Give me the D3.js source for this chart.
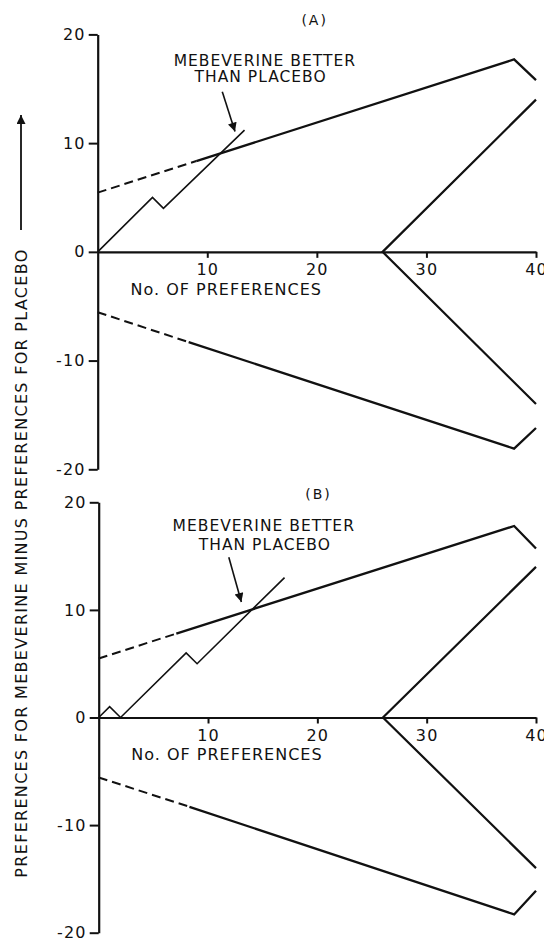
<!DOCTYPE html>
<html>
<style>
body { margin: 0; background: #fff; }
text { font-family: "DejaVu Sans", sans-serif; fill: #111; }
</style>
<body>
<script src="https://d3js.org/d3.v7.min.js"></script>
<script>
var width = 544, height = 939;

// ticks
var xTicks = [10, 20, 30, 40];
var yTicks = [-20, -10, 0, 10, 20];

// boundaries (same design in both panels)
var upperDashedA = [[0, 5.45], [9, 8.35]];
var upperSolidA = [[9, 8.35], [38, 17.7], [40, 15.8]];
var lowerDashedA = [[0, -5.55], [8.3, -8.3]];
var lowerSolidA = [[8.3, -8.3], [38, -18.1], [40, -16.2]];
var upperDashedB = [[0, 5.48], [7.1, 7.8]];
var upperSolidB = [[7.1, 7.8], [38, 17.8], [40, 15.7]];
var lowerDashedB = [[0, -5.57], [8.3, -8.3]];
var lowerSolidB = [[8.3, -8.3], [38, -18.3], [40, -16.1]];
var wedge = [[40, 14], [26, 0], [40, -14]];

// preference paths
var pathA = [[0, 0], [5, 5], [6, 4], [13.4, 11.2]];
var pathB = [[0, 0], [1, 1], [2, 0], [8, 6], [9, 5], [17, 13]];

var svg = d3.select("body").append("svg")
  .attr("width", width)
  .attr("height", height);

var defs = svg.append("defs");
defs.append("marker")
  .attr("id", "head")
  .attr("viewBox", "0 0 10 10")
  .attr("refX", 10).attr("refY", 5)
  .attr("markerUnits", "userSpaceOnUse")
  .attr("markerWidth", 13).attr("markerHeight", 9)
  .attr("orient", "auto")
  .append("path")
  .attr("d", "M0,0 L10,5 L0,10 z")
  .attr("fill", "#111");

function panel(opt) {
  var x = d3.scaleLinear().domain([0, 40]).range(opt.xr);
  var y = d3.scaleLinear().domain([-20, 20]).range(opt.yr);
  var g = svg.append("g");
  var line = d3.line().x(d => x(d[0])).y(d => y(d[1]));

  // y axis
  var ya = g.append("g")
    .attr("transform", "translate(" + x(0) + ",0)")
    .call(d3.axisLeft(y).tickValues(yTicks).tickSize(9).tickSizeOuter(0)
      .tickPadding(3).tickFormat(d => String(d)));
  // x axis
  var xa = g.append("g")
    .attr("transform", "translate(0," + y(0) + ")")
    .call(d3.axisBottom(x).tickValues(xTicks).tickSize(6).tickSizeOuter(0)
      .tickPadding(6).tickFormat(d => String(d)));
  [ya, xa].forEach(function (a) {
    a.select(".domain").attr("stroke", "#111").attr("stroke-width", 2.2);
    a.selectAll(".tick line").attr("stroke", "#111").attr("stroke-width", 2);
    a.selectAll(".tick text").attr("font-size", 16).attr("fill", "#111")
      .attr("letter-spacing", 1.2).attr("font-family", "DejaVu Sans");
  });

  var stroke = function (sel, w) {
    return sel.attr("fill", "none").attr("stroke", "#111").attr("stroke-width", w)
      .attr("stroke-linejoin", "miter");
  };
  stroke(g.append("path").attr("d", line(opt.ud)), 2).attr("stroke-dasharray", "9,5");
  stroke(g.append("path").attr("d", line(opt.us)), 2.3);
  stroke(g.append("path").attr("d", line(opt.ld)), 2).attr("stroke-dasharray", "9,5");
  stroke(g.append("path").attr("d", line(opt.ls)), 2.3);
  stroke(g.append("path").attr("d", line(wedge)), 2.2);
  stroke(g.append("path").attr("d", line(opt.path)), 1.6);

  // annotation
  g.append("line")
    .attr("x1", x(opt.arrow[0][0])).attr("y1", y(opt.arrow[0][1]))
    .attr("x2", x(opt.arrow[1][0])).attr("y2", y(opt.arrow[1][1]))
    .attr("stroke", "#111").attr("stroke-width", 1.6)
    .attr("marker-end", "url(#head)");
  opt.note.forEach(function (n) {
    g.append("text")
      .attr("x", x(n.at[0])).attr("y", y(n.at[1]))
      .attr("text-anchor", "middle")
      .attr("font-size", 15.5).attr("letter-spacing", 1)
      .text(n.t);
  });
  g.append("text")
    .attr("x", x(opt.xlab[0])).attr("y", y(opt.xlab[1]))
    .attr("font-size", 16).attr("letter-spacing", 1)
    .text("No. OF PREFERENCES");
  g.append("text")
    .attr("x", x(opt.title[0])).attr("y", y(opt.title[1]))
    .attr("text-anchor", "middle")
    .attr("font-size", 14).attr("letter-spacing", 2)
    .text(opt.label);
}

panel({
  xr: [97.7, 536], yr: [469.3, 34.4],
  ud: upperDashedA, us: upperSolidA, ld: lowerDashedA, ls: lowerSolidA,
  path: pathA,
  arrow: [[11.37, 14.73], [12.53, 11.06]],
  note: [{ t: "MEBEVERINE BETTER", at: [15.25, 17.12] }, { t: "THAN PLACEBO", at: [14.87, 15.6] }],
  xlab: [3.0, -3.95],
  title: [19.8, 20.9], label: "(A)"
});

panel({
  xr: [98.7, 536], yr: [932.7, 502.3],
  ud: upperDashedB, us: upperSolidB, ld: lowerDashedB, ls: lowerSolidB,
  path: pathB,
  arrow: [[11.9, 14.9], [13.05, 10.73]],
  note: [{ t: "MEBEVERINE BETTER", at: [15.1, 17.3] }, { t: "THAN PLACEBO", at: [15.2, 15.6] }],
  xlab: [2.98, -3.96],
  title: [20.1, 20.3], label: "(B)"
});

// shared y title with arrow
svg.append("text")
  .attr("transform", "translate(27,563) rotate(-90)")
  .attr("text-anchor", "middle")
  .attr("font-size", 16).attr("letter-spacing", 1.3)
  .text("PREFERENCES FOR MEBEVERINE MINUS PREFERENCES FOR PLACEBO");
svg.append("line")
  .attr("x1", 21).attr("y1", 230).attr("x2", 21).attr("y2", 115)
  .attr("stroke", "#111").attr("stroke-width", 1.8)
  .attr("marker-end", "url(#head)");
</script>
</body>
</html>
